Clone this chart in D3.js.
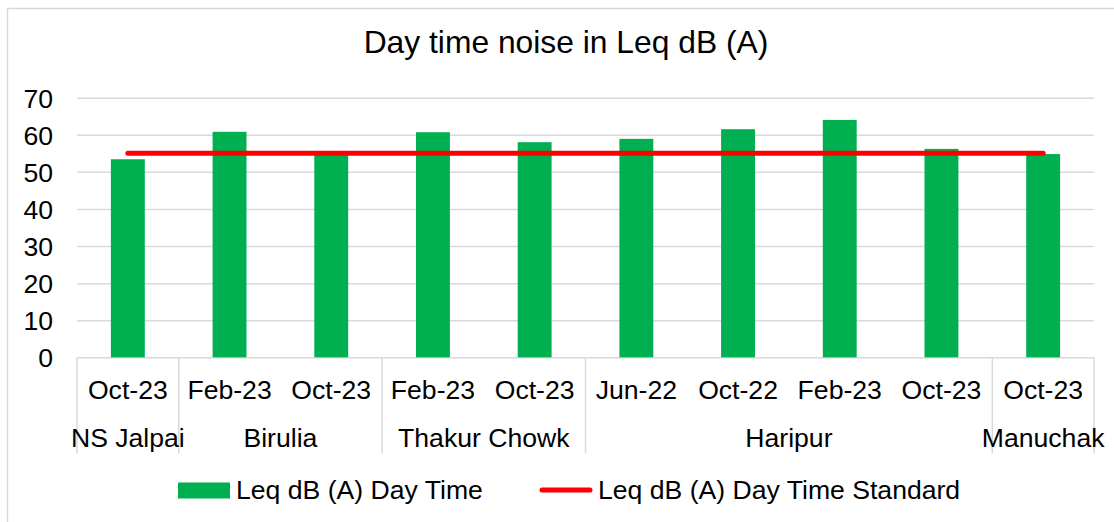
<!DOCTYPE html>
<html>
<head>
<meta charset="utf-8">
<script src="https://cdn.jsdelivr.net/npm/d3@7"></script>
<style>
    body { margin: 0; background: #fff; }
    svg { display: block; font-family: 'Liberation Sans', Arial, sans-serif; }
    .grid line { stroke: #d9d9d9; stroke-width: 1.5; }
    .tick-label { font-size: 26.6px; fill: #000; }
    .cat-sep { stroke: #d9d9d9; stroke-width: 1.5; }
</style>
</head>
<body>
<div id="chart"></div>
<script>
// chart data
const title = 'Day time noise in Leq dB (A)'
const dates = ['Oct-23', 'Feb-23', 'Oct-23', 'Feb-23', 'Oct-23', 'Jun-22', 'Oct-22', 'Feb-23', 'Oct-23', 'Oct-23']
const locations = ['NS Jalpai', 'Birulia', 'Birulia', 'Thakur Chowk', 'Thakur Chowk', 'Haripur', 'Haripur', 'Haripur', 'Haripur', 'Manuchak']
const dayTime = [53.4, 60.8, 54.6, 60.7, 58.0, 58.9, 61.5, 64.0, 56.2, 54.8]
const standard = [55, 55, 55, 55, 55, 55, 55, 55, 55, 55]
const yTicks = [0, 10, 20, 30, 40, 50, 60, 70]
const seriesNames = ['Leq dB (A) Day Time', 'Leq dB (A) Day Time Standard']

const W = 1114, H = 522
const layout = { left: 77, top: 97.7, width: 1017, height: 259.6 }

const svg = d3.select('#chart').append('svg')
    .attr('width', W)
    .attr('height', H)

// outer chart border (right/bottom run off the picture)
svg.append('rect')
    .attr('x', 7.5).attr('y', 8.5)
    .attr('width', W + 20).attr('height', H + 20)
    .attr('fill', '#fff')
    .attr('stroke', '#d9d9d9')
    .attr('stroke-width', 1.5)

svg.append('text')
    .attr('x', 566)
    .attr('y', 53)
    .attr('text-anchor', 'middle')
    .style('font-size', '31.8px')
    .attr('fill', '#000')
    .text(title)

const g = svg.append('g')
    .attr('transform', 'translate(' + layout.left + ',' + layout.top + ')')

const idx = d3.range(dates.length)
const xScale = d3.scaleBand().domain(idx).range([0, layout.width]).paddingInner(0).paddingOuter(0)
const yScale = d3.scaleLinear().domain([0, 70]).range([layout.height, 0])

// horizontal gridlines
const yAxisEl = g.append('g')
    .attr('class', 'grid')
    .call(d3.axisLeft(yScale).tickValues(yTicks).tickSize(-layout.width).tickPadding(24).tickFormat(d3.format('d')))
yAxisEl.select('.domain').remove()
yAxisEl.selectAll('text')
    .attr('class', 'tick-label')
    .attr('dy', '0.36em')

// bars
const barW = xScale.bandwidth() / 3
g.selectAll('.bar')
    .data(dayTime)
    .enter()
    .append('rect')
    .attr('class', 'bar')
    .attr('x', (d, i) => xScale(i) + (xScale.bandwidth() - barW) / 2)
    .attr('y', d => yScale(d))
    .attr('width', barW)
    .attr('height', d => layout.height - yScale(d))
    .attr('fill', '#00b050')

// standard line
const line = d3.line()
    .x((d, i) => xScale(i) + xScale.bandwidth() / 2)
    .y(d => yScale(d))
g.append('path')
    .datum(standard)
    .attr('d', line)
    .attr('fill', 'none')
    .attr('stroke', '#ff0000')
    .attr('stroke-width', 5)
    .attr('stroke-linecap', 'round')

// multi-level category axis
const catG = g.append('g').attr('transform', 'translate(0,' + layout.height + ')')
catG.selectAll('.date-label')
    .data(dates)
    .enter()
    .append('text')
    .attr('class', 'tick-label')
    .attr('x', (d, i) => xScale(i) + xScale.bandwidth() / 2)
    .attr('y', 42)
    .attr('text-anchor', 'middle')
    .text(d => d)

// group consecutive locations
const groups = []
locations.forEach((loc, i) => {
    const last = groups[groups.length - 1]
    if (last && last.name === loc) last.end = i
    else groups.push({ name: loc, start: i, end: i })
})
const seps = [0, ...groups.map(gr => gr.end + 1)]
catG.selectAll('.cat-sep')
    .data(seps)
    .enter()
    .append('line')
    .attr('class', 'cat-sep')
    .attr('x1', i => i === dates.length ? layout.width : xScale(i))
    .attr('x2', i => i === dates.length ? layout.width : xScale(i))
    .attr('y1', 0)
    .attr('y2', 96)
catG.selectAll('.loc-label')
    .data(groups)
    .enter()
    .append('text')
    .attr('class', 'tick-label')
    .attr('x', d => (xScale(d.start) + xScale(d.end) + xScale.bandwidth()) / 2)
    .attr('y', 89.5)
    .attr('text-anchor', 'middle')
    .text(d => d.name)

// legend
const legendG = svg.append('g')
legendG.append('rect')
    .attr('x', 178).attr('y', 482.5)
    .attr('width', 52).attr('height', 16)
    .attr('fill', '#00b050')
legendG.append('text')
    .attr('class', 'tick-label')
    .attr('x', 236).attr('y', 499)
    .text(seriesNames[0])
legendG.append('line')
    .attr('x1', 542).attr('x2', 590)
    .attr('y1', 490).attr('y2', 490)
    .attr('stroke', '#ff0000')
    .attr('stroke-width', 5)
    .attr('stroke-linecap', 'round')
legendG.append('text')
    .attr('class', 'tick-label')
    .attr('x', 598).attr('y', 499)
    .text(seriesNames[1])
</script>
</body>
</html>
